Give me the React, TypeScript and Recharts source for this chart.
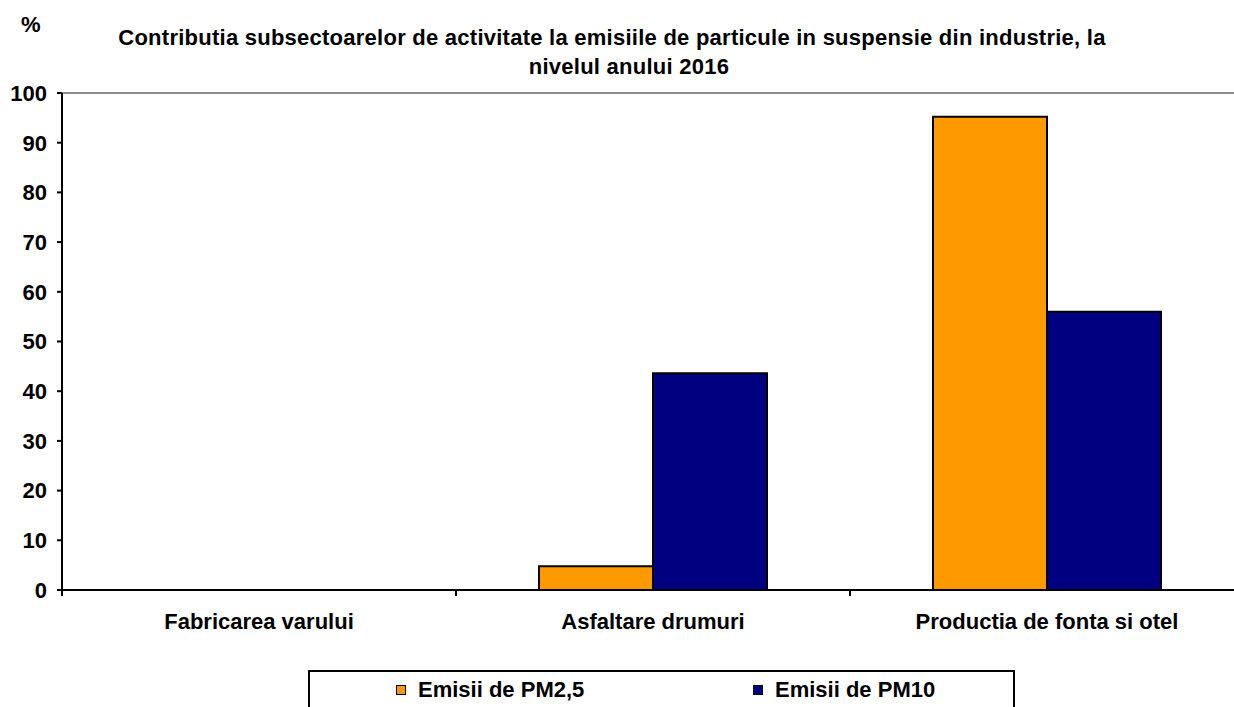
import React from 'react';
import { BarChart, Bar, XAxis, YAxis, ReferenceLine, Legend } from 'recharts';

const categories = ['Fabricarea varului', 'Asfaltare drumuri', 'Productia de fonta si otel'];
const pm25 = [0, 4.8, 95.2];
const pm10 = [0, 43.6, 56.0];
const yTicks = [0, 10, 20, 30, 40, 50, 60, 70, 80, 90, 100];
const seriesNames = ['Emisii de PM2,5', 'Emisii de PM10'];
const seriesColors = ['#FF9900', '#000080'];

const data = categories.map((c, i) => ({ name: c, pm25: pm25[i], pm10: pm10[i] }));

const FONT = '"Liberation Sans", Arial, sans-serif';

const CHART_W = 1260;
const CHART_H = 707;
const LEFT = 62;
const RIGHT_MARGIN = 16;
const BAND = (CHART_W - LEFT - RIGHT_MARGIN) / categories.length;

const XTick = (props: any) => {
  const { x, y, payload } = props;
  const off = payload && typeof payload.offset === 'number' && payload.offset > 0 ? payload.offset : BAND / 2;
  return (
    <g>
      <line x1={x - off} y1={y - 8} x2={x - off} y2={y - 2} stroke="#000" strokeWidth={2} />
      <text x={x} y={y + 31} textAnchor="middle" fontFamily={FONT} fontWeight="bold" fontSize={22} fill="#000">
        {payload.value}
      </text>
    </g>
  );
};

const LegendContent = () => (
  <div
    style={{
      position: 'relative',
      width: 707,
      height: 50,
      border: '2px solid #000',
      boxSizing: 'border-box',
      background: '#fff',
      fontFamily: FONT,
      fontWeight: 'bold',
      fontSize: 22,
      lineHeight: '24px',
      color: '#000',
    }}
  >
    {seriesNames.map((n, i) => (
      <div key={n} style={{ position: 'absolute', left: i === 0 ? 86 : 443, top: 6, display: 'flex', alignItems: 'center' }}>
        <span
          style={{
            display: 'inline-block',
            width: 8,
            height: 8,
            background: seriesColors[i],
            border: '1.5px solid #000',
            marginRight: 12,
          }}
        />
        <span>{n}</span>
      </div>
    ))}
  </div>
);

export default function App() {
  return (
    <div style={{ position: 'absolute', left: 0, top: 0, width: 1234, height: 707, overflow: 'hidden', background: '#fff' }}>
      <div style={{ position: 'absolute', left: 21, top: 12, fontFamily: FONT, fontWeight: 'bold', fontSize: 22 }}>%</div>
      <div
        style={{
          position: 'absolute',
          left: 0,
          top: 23,
          width: 1234,
          textAlign: 'center',
          fontFamily: FONT,
          fontWeight: 'bold',
          fontSize: 22,
          lineHeight: '29px',
          letterSpacing: 0.25,
          whiteSpace: 'nowrap',
        }}
      >
        <div style={{ position: 'relative', left: -5 }}>Contributia subsectoarelor de activitate la emisiile de particule in suspensie din industrie, la</div>
        <div style={{ position: 'relative', left: 12 }}>nivelul anului 2016</div>
      </div>
      <BarChart
        width={CHART_W}
        height={CHART_H}
        data={data}
        margin={{ top: 93, right: RIGHT_MARGIN, left: 0, bottom: 17 }}
        barGap={0}
        barCategoryGap={83}
      >
        <ReferenceLine y={100} stroke="#8c8c8c" strokeWidth={2} ifOverflow="extendDomain" />
        <XAxis
          dataKey="name"
          height={50}
          tick={<XTick />}
          tickLine={false}
          axisLine={{ stroke: '#000', strokeWidth: 2 }}
          interval={0}
        />
        <YAxis
          width={LEFT}
          domain={[0, 100]}
          ticks={yTicks}
          interval={0}
          tickSize={5}
          tickMargin={10}
          axisLine={{ stroke: '#000', strokeWidth: 2 }}
          tickLine={{ stroke: '#000', strokeWidth: 2 }}
          tick={{ fontFamily: FONT, fontWeight: 'bold', fontSize: 22, fill: '#000' }}
        />
        <Legend
          content={<LegendContent />}
          wrapperStyle={{ position: 'absolute', left: 308, top: 670, width: 707, height: 50 }}
        />
        <Bar dataKey="pm25" name={seriesNames[0]} fill={seriesColors[0]} stroke="#000" strokeWidth={2} isAnimationActive={false} />
        <Bar dataKey="pm10" name={seriesNames[1]} fill={seriesColors[1]} stroke="#000" strokeWidth={2} isAnimationActive={false} />
      </BarChart>
    </div>
  );
}
